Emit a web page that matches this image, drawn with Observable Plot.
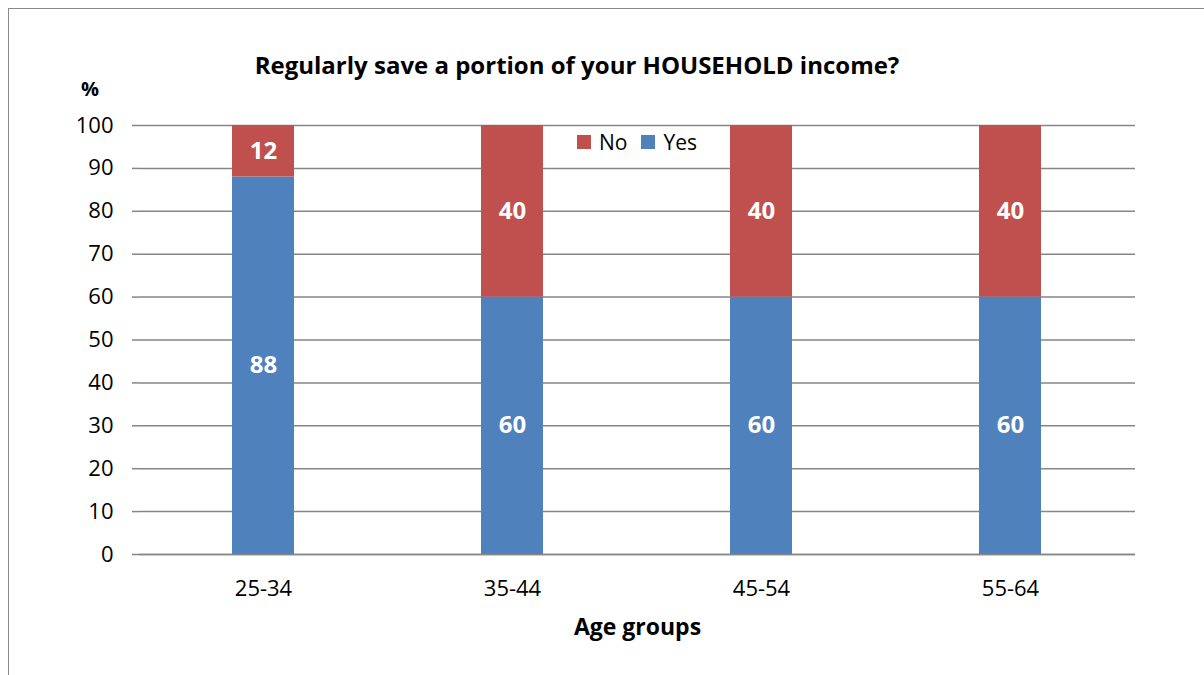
<!DOCTYPE html>
<html>
<head>
<meta charset="utf-8">
<script src="https://cdn.jsdelivr.net/npm/d3@7"></script>
<script src="https://cdn.jsdelivr.net/npm/@observablehq/plot@0.6"></script>
<style>
  html, body { margin: 0; padding: 0; background: #fff; }
  body { width: 1204px; height: 675px; overflow: hidden; position: relative; font-family: "Open Sans", sans-serif; }
  #frame { position: absolute; left: 8px; top: 8px; width: 1300px; height: 800px; border-left: 1.5px solid #8a8a8a; border-top: 1.5px solid #8a8a8a; }
  #title { position: absolute; left: 0; width: 1154px; top: 48px; text-align: center; font-weight: bold; font-size: 24px; color: #000; white-space: nowrap; }
  #unit { position: absolute; left: 81px; top: 75px; font-weight: bold; font-size: 20px; color: #000; }
  #chart { position: absolute; left: 0; top: 100px; }
  #legend { position: absolute; left: 577px; top: 128px; display: flex; align-items: center; font-size: 21px; color: #000; }
  #legend .sw { width: 14px; height: 14px; display: inline-block; margin-right: 8px; }
  #legend .item { display: flex; align-items: center; margin-right: 14px; }
</style>
</head>
<body>
<div id="frame"></div>
<div id="title">Regularly save a portion of your HOUSEHOLD income?</div>
<div id="unit">%</div>
<div id="chart"></div>
<div id="legend"></div>
<script>
const ageGroups = ["25-34", "35-44", "45-54", "55-64"];
const yesValues = [88, 60, 60, 60];
const noValues = [12, 40, 40, 40];
const answers = ["Yes", "No"];
const answerColors = ["#4F81BD", "#C0504D"];
const yTicks = [0, 10, 20, 30, 40, 50, 60, 70, 80, 90, 100];

const data = [];
ageGroups.forEach((g, i) => {
  data.push({group: g, answer: "Yes", value: yesValues[i]});
  data.push({group: g, answer: "No", value: noValues[i]});
});

const chart = Plot.plot({
  width: 1204,
  height: 575,
  marginLeft: 139,
  marginRight: 69,
  marginTop: 25,
  marginBottom: 121,
  style: {fontFamily: "Open Sans, sans-serif", fontSize: "22px", color: "#000", background: "transparent"},
  x: {domain: ageGroups, paddingInner: 0.75, paddingOuter: 0.375, label: null},
  y: {domain: [0, 100], label: null},
  color: {domain: answers, range: answerColors},
  marks: [
    Plot.gridY(yTicks, {stroke: "#868686", strokeOpacity: 1, strokeWidth: 1.5}),
    Plot.barY(data, Plot.stackY({x: "group", y: "value", z: "answer", fill: "answer", order: answers})),
    Plot.ruleX([0], {frameAnchor: "left", stroke: "#868686", strokeWidth: 1.5}),
    Plot.axisY(yTicks, {tickSize: 7, tickPadding: 19, stroke: "#868686", strokeWidth: 1.5, label: null, fontSize: 22, fill: "#000"}),
    Plot.axisX({tickSize: 0, tickPadding: 26, label: null, fontSize: 22, fill: "#000"}),
    Plot.ruleY([0], {stroke: "#868686", strokeWidth: 1.5}),
    Plot.text(data, Plot.stackY({x: "group", y: "value", z: "answer", text: "value", order: answers, fill: "white", fontWeight: "bold", fontSize: 24})),
    Plot.text(["Age groups"], {frameAnchor: "bottom", dy: 80, fontWeight: "bold", fontSize: 23, fill: "#000"})
  ]
});
document.getElementById("chart").appendChild(chart);

const legend = document.getElementById("legend");
[["No", "#C0504D"], ["Yes", "#4F81BD"]].forEach(([label, color]) => {
  const item = document.createElement("div");
  item.className = "item";
  const sw = document.createElement("span");
  sw.className = "sw";
  sw.style.background = color;
  const t = document.createElement("span");
  t.textContent = label;
  item.appendChild(sw);
  item.appendChild(t);
  legend.appendChild(item);
});
</script>
</body>
</html>
